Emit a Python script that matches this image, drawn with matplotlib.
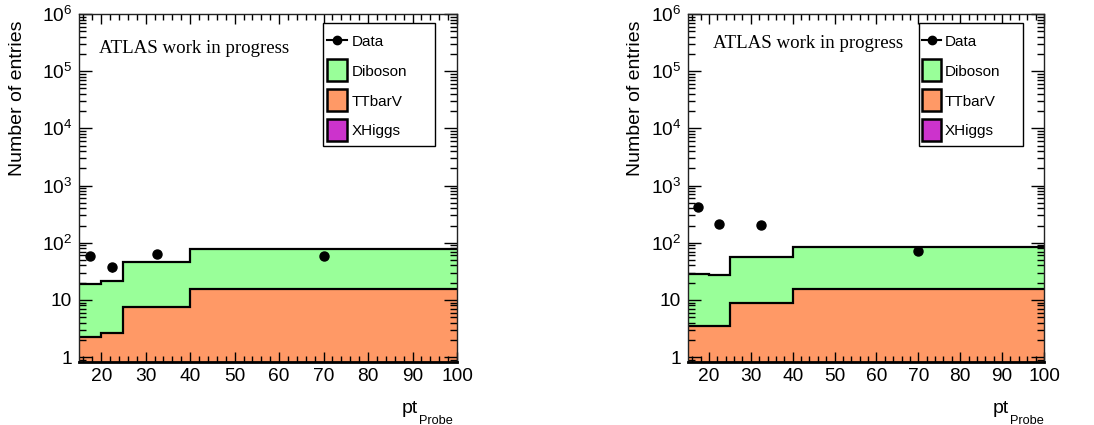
import numpy as np
import matplotlib
matplotlib.use('Agg')
import matplotlib.pyplot as plt
from matplotlib.patches import Rectangle
from matplotlib.lines import Line2D
from matplotlib.ticker import FixedLocator, FixedFormatter, LogLocator, MultipleLocator, NullFormatter

plt.rcParams['font.family'] = ['Liberation Sans', 'DejaVu Sans']
plt.rcParams['mathtext.fontset'] = 'custom'
plt.rcParams['mathtext.rm'] = 'Liberation Sans'
plt.rcParams['mathtext.it'] = 'Liberation Sans:italic'
plt.rcParams['mathtext.bf'] = 'Liberation Sans:bold'

# ---------------- data ----------------
bin_edges = [15, 20, 25, 40, 100]
bin_centers = [17.5, 22.5, 32.5, 70]
sample_names = ['Diboson', 'TTbarV', 'XHiggs']
sample_colors = ['#99ff99', '#ff9966', '#cc33cc']

left_data = [59, 37, 64, 59]
left_diboson = [16.7, 18.8, 38.4, 62.8]
left_ttbarv = [2.27, 2.67, 7.6, 15.2]
left_xhiggs = [0, 0, 0, 0]

right_data = [425, 216, 204, 71]
right_diboson = [25.2, 23.5, 47.3, 67.4]
right_ttbarv = [3.45, 3.45, 8.7, 15.6]
right_xhiggs = [0, 0, 0, 0]

ytick_values = [1, 10, 100, 1e3, 1e4, 1e5, 1e6]
ytick_labels = ['1', '10', r'$10^{2}$', r'$10^{3}$', r'$10^{4}$', r'$10^{5}$', r'$10^{6}$']

YMIN, YMAX = 0.82, 1e6
W, H = 1094, 425

fig = plt.figure(figsize=(W / 100, H / 100), dpi=100)


def fx(x):
    return x / W


def fy(y):
    return 1 - y / H


def px_axes(x0, x1, y0, y1):
    return fig.add_axes([fx(x0), fy(y1), (x1 - x0) / W, (y1 - y0) / H])


def legend_box(x0, x1, y0, y1, hx0, hx1, tx):
    fig.add_artist(Rectangle((fx(x0), fy(y1)), (x1 - x0) / W, (y1 - y0) / H,
                             transform=fig.transFigure, facecolor='white',
                             edgecolor='black', lw=1, zorder=5))
    rows = [40, 70, 100, 130]
    labels = ['Data'] + sample_names
    # Data entry
    fig.add_artist(Line2D([fx(hx0), fx(hx1)], [fy(rows[0]), fy(rows[0])],
                          transform=fig.transFigure, color='black', lw=1.5, zorder=6))
    fig.add_artist(Line2D([fx((hx0 + hx1) / 2)], [fy(rows[0])], marker='o', ms=6,
                          color='black', transform=fig.transFigure, zorder=6))
    for r, c in zip(rows[1:], sample_colors):
        fig.add_artist(Rectangle((fx(hx0), fy(r + 10.5)), (hx1 - hx0) / W, 21 / H,
                                 transform=fig.transFigure, facecolor=c,
                                 edgecolor='black', lw=1.8, zorder=6))
    for r, lab in zip(rows, labels):
        fig.text(fx(tx), fy(r), lab, fontsize=11, ha='left', va='center_baseline',
                 zorder=7)


def draw(ax, data, diboson, ttbarv, xhiggs):
    edges = np.array(bin_edges, dtype=float)
    xh = np.array(xhiggs, dtype=float)
    tt = xh + np.array(ttbarv, dtype=float)
    db = tt + np.array(diboson, dtype=float)
    levels = [(db, sample_colors[0]), (tt, sample_colors[1]), (xh, sample_colors[2])]
    for lvl, c in levels:
        if np.any(lvl > YMIN):
            ax.stairs(lvl, edges, baseline=YMIN, fill=True, color=c, lw=0, zorder=1)
    for lvl, c in levels:
        if np.any(lvl > YMIN):
            ax.stairs(lvl, edges, baseline=None, color='black', lw=1.6, zorder=2)
    d = np.array(data, dtype=float)
    ax.errorbar(bin_centers, d, yerr=np.sqrt(d), fmt='o', color='black', ms=6.5,
                elinewidth=1, capsize=0, zorder=3)

    ax.set_yscale('log')
    ax.set_ylim(YMIN, YMAX)
    ax.set_xlim(bin_edges[0], bin_edges[-1])
    ax.yaxis.set_major_locator(FixedLocator(ytick_values))
    ax.yaxis.set_major_formatter(FixedFormatter(ytick_labels))
    ax.yaxis.set_minor_locator(LogLocator(base=10, subs=np.arange(2, 10)))
    ax.yaxis.set_minor_formatter(NullFormatter())
    ax.xaxis.set_major_locator(MultipleLocator(10))
    ax.xaxis.set_minor_locator(MultipleLocator(2))
    ax.tick_params(which='both', direction='in', top=True, right=True, colors='black',
                   labelsize=13.8, width=1)
    ax.tick_params(axis='y', which='major', length=9.5, pad=5)
    ax.tick_params(axis='y', which='minor', length=5)
    ax.tick_params(axis='x', which='major', length=7.5, pad=4)
    ax.tick_params(axis='x', which='minor', length=4)
    for s in ax.spines.values():
        s.set_color('#222222')
        s.set_linewidth(1)
    ax.spines['bottom'].set_color('black')
    ax.spines['bottom'].set_linewidth(2)


# left panel
ax1 = px_axes(79, 457, 14, 362)
draw(ax1, left_data, left_diboson, left_ttbarv, left_xhiggs)
legend_box(323, 435, 23, 146, 326.5, 347, 352)
fig.text(99 / W, 1 - 53 / H, 'ATLAS work in progress', family='Liberation Serif',
         fontsize=13.6, ha='left', va='baseline')
fig.text(17.5 / W, 1 - 98.5 / H, 'Number of entries', rotation=90, fontsize=14,
         ha='center', va='center')
fig.text(402 / W, 1 - 413 / H, 'pt', fontsize=14, ha='left', va='baseline')
fig.text(419 / W, 1 - 423.5 / H, 'Probe', fontsize=9.2, ha='left', va='baseline')

# right panel
ax2 = px_axes(688, 1044, 14, 362)
draw(ax2, right_data, right_diboson, right_ttbarv, right_xhiggs)
legend_box(919, 1023, 23, 146, 922, 941, 945)
fig.text(713 / W, 1 - 48.5 / H, 'ATLAS work in progress', family='Liberation Serif',
         fontsize=13.6, ha='left', va='baseline')
fig.text(636 / W, 1 - 98.5 / H, 'Number of entries', rotation=90, fontsize=14,
         ha='center', va='center')
fig.text(993 / W, 1 - 413 / H, 'pt', fontsize=14, ha='left', va='baseline')
fig.text(1010 / W, 1 - 423.5 / H, 'Probe', fontsize=9.2, ha='left', va='baseline')

fig.savefig('out.png', dpi=100)
